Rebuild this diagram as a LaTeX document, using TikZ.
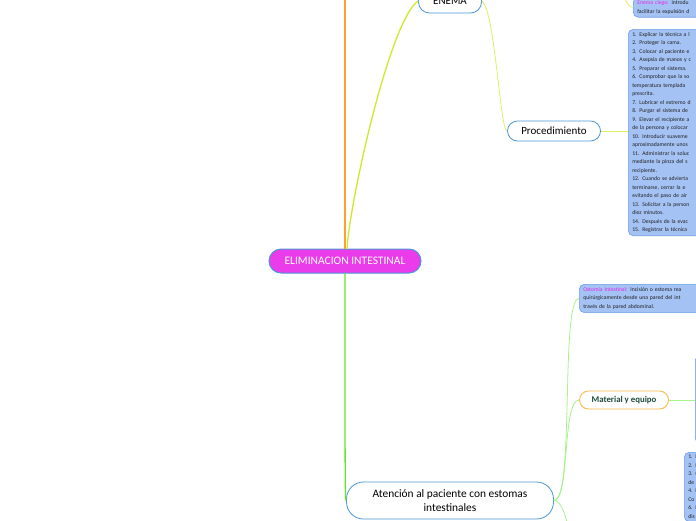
\documentclass[tikz,border=0pt]{standalone}
\usepackage{fontspec}
\setmainfont{Carlito}
\usetikzlibrary{positioning,calc}
\definecolor{nodeBlue}{HTML}{4A97DA}
\definecolor{listFill}{HTML}{A4C2F4}
\definecolor{listLine}{HTML}{6C9EE6}
\definecolor{rootFill}{HTML}{EA3CEA}
\definecolor{pinkText}{HTML}{E62AE6}
\definecolor{bodyText}{HTML}{222222}
\definecolor{orangeLine}{HTML}{FFA02E}
\definecolor{limeLine}{HTML}{CCEC2A}
\definecolor{limeThin}{HTML}{E2EF62}
\definecolor{greenLine}{HTML}{5EE62A}
\definecolor{greenThin}{HTML}{A8F28C}
\definecolor{matEdge}{HTML}{FFB84A}
\definecolor{matText}{HTML}{1E4A3E}
\newcommand{\keyterm}[1]{%
  {\color{pinkText}#1}%
}

\begin{document}
\begin{tikzpicture}[x=1pt,y=-1pt,
    topic/.style={draw=nodeBlue,line width=0.8pt,fill=white,inner sep=0pt,
                  text=black,font=\fontsize{11}{14}\selectfont},
    listbox/.style={draw=listLine,line width=0.6pt,fill=listFill,rounded corners=5pt,
                    align=left,inner xsep=4pt,inner ysep=3pt,text=bodyText,
                    font=\fontsize{5.7}{8.5}\selectfont},
    thinlink/.style={line width=0.8pt}]
  \useasboundingbox (0,0) rectangle (696,520);
  \fill[white] (0,0) rectangle (696,520);

  % centre topic
  \node[draw=nodeBlue,line width=1pt,fill=rootFill,text=white,inner sep=0pt,
        rounded corners=12pt,minimum width=152pt,minimum height=24pt,
        font=\fontsize{11.5}{13}\selectfont]
        (root) at (345,261) {ELIMINACION INTESTINAL};

  % branch ENEMA
  \node[topic,rounded corners=11pt,minimum width=63pt,minimum height=24pt]
        (enema) at (450,1) {ENEMA};
  \node[topic,rounded corners=10pt,minimum width=93pt,minimum height=20pt]
        (proc) at (554,131) {Procedimiento};
  \node[listbox,anchor=south west,text width=110pt,font=\fontsize{5.7}{9}\selectfont]
        (ciego) at (633,17.5) {\keyterm{Enema ciego:} introdu\\facilitar la expulsión d};
  \node[listbox,anchor=north west,text width=110pt]
        (procList) at (628,29) {1. Explicar la técnica a l\\
          2. Proteger la cama.\\
          3. Colocar al paciente e\\
          4. Asepsia de manos y c\\
          5. Preparar el sistema.\\
          6. Comprobar que la so\\
          temperatura templada\\
          prescrita.\\
          7. Lubricar el extremo d\\
          8. Purgar el sistema de\\
          9. Elevar el recipiente a\\
          de la persona y colocar\\
          10. Introducir suaveme\\
          aproximadamente unos\\
          11. Administrar la soluc\\
          mediante la pinza del s\\
          recipiente.\\
          12. Cuando se advierta\\
          terminarse, cerrar la e\\
          evitando el paso de air\\
          13. Solicitar a la person\\
          diez minutos.\\
          14. Después de la evac\\
          15. Registrar la técnica};

  % branch estomas
  \node[topic,rounded corners=17pt,minimum width=207pt,minimum height=37pt,
        align=center,font=\fontsize{11.4}{14}\selectfont]
        (aten) at (450,500.5) {Atención al paciente con estomas\\intestinales};
  \node[listbox,anchor=north west,text width=130pt,font=\fontsize{5.7}{8.7}\selectfont]
        (ostomia) at (579,284) {\keyterm{Ostomía Intestinal:} Incisión o estoma rea\\
          quirúrgicamente desde una pared del int\\
          través de la pared abdominal.};
  \node[draw=matEdge,line width=0.9pt,fill=white,inner sep=0pt,rounded corners=9pt,
        minimum width=89pt,minimum height=18pt,text=matText,
        font=\bfseries\fontsize{8.8}{10}\selectfont]
        (mat) at (624,400) {Material y equipo};
  \node[listbox,anchor=north west,minimum width=60pt,minimum height=88pt]
        (matBox) at (695,355) {};
  \node[listbox,anchor=north west,text width=60pt]
        (stepsBox) at (684,452) {1. I\\2. I\\3. (\\de\\4. I\\Co\\6. I\\dis};

  % connectors
  \coordinate (orangeTop) at (345,-10);
  \coordinate (ciegoTop) at (612,-30);
  \coordinate (atenLow) at (572,545);
  \draw[orangeLine,line width=2.4pt] (root.north) -- (orangeTop);
  \draw[limeLine,line width=1.3pt]
        ([xshift=2pt]root.north) .. controls (350,200) and (390,20) .. (enema.west);
  \draw[limeThin,thinlink]
        (enema.east) .. controls (495,10) and (500,131) .. (proc.west);
  \draw[limeThin,thinlink]
        (ciegoTop) .. controls (624,-5) and (627,8) .. (ciego.west);
  \draw[limeThin,thinlink] (proc.east) -- (proc.east -| procList.west);
  \draw[greenLine,line width=1.3pt]
        (root.south) .. controls (345,470) and (345,500) .. (aten.west);
  \draw[greenThin,thinlink]
        (aten.east) .. controls (575,501) and (560,299) .. (ostomia.west);
  \draw[greenThin,thinlink]
        (aten.east) .. controls (570,501) and (562,400) .. (mat.west);
  \draw[greenThin,thinlink]
        (aten.east) .. controls (562,501) and (566,515) .. (atenLow);
  \draw[greenThin,thinlink] (mat.east) -- (mat.east -| matBox.west);
\end{tikzpicture}
\end{document}
